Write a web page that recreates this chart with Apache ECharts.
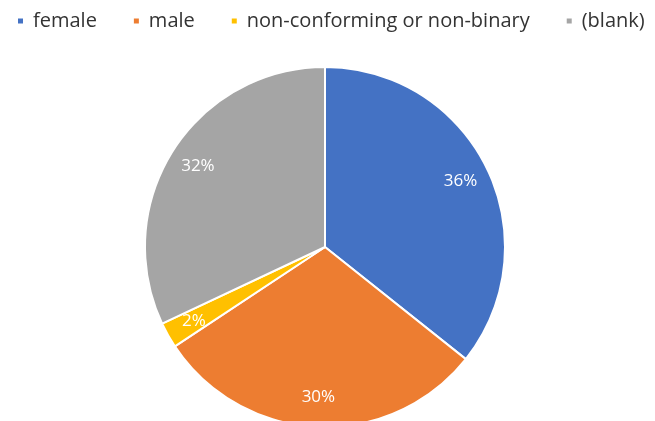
<!DOCTYPE html>
<html>
<head>
<meta charset="utf-8">
<script src="https://cdn.jsdelivr.net/npm/echarts@6/dist/echarts.min.js"></script>
<style>
html, body { margin: 0; padding: 0; background: #fff; }
#chart { width: 655px; height: 421px; }
</style>
</head>
<body>
<div id="chart"></div>
<script>
var categories = ['female', 'male', 'non-conforming or non-binary', '(blank)'];
var shares = [35.7, 30.0, 2.3, 32.0];
var colors = ['#4472C4', '#ED7D31', '#FFC000', '#A5A5A5'];

var pieData = categories.map(function (name, i) {
    return {name: name, value: shares[i]};
});

var font = 'Open Sans';
var center = [325, 247];

var option = {
    color: colors,
    animation: false,
    legend: {
        data: categories,
        top: 6,
        left: 11,
        icon: 'rect',
        itemWidth: 7,
        itemHeight: 7,
        itemGap: 35,
        textStyle: {
            fontFamily: font,
            fontSize: 20,
            color: '#333',
            padding: [0, 0, 0, 4]
        }
    },
    series: [
        {
            name: 'gender',
            type: 'pie',
            center: center,
            radius: 180,
            startAngle: 90,
            clockwise: true,
            itemStyle: {
                borderColor: '#fff',
                borderWidth: 2
            },
            label: {show: false},
            labelLine: {show: false},
            data: pieData
        },
        {
            // transparent ring only used to place the labels further out
            name: 'labels',
            type: 'pie',
            center: center,
            radius: [115, 180],
            startAngle: 90,
            clockwise: true,
            silent: true,
            itemStyle: {color: 'rgba(0,0,0,0)'},
            label: {
                show: true,
                position: 'inside',
                color: '#fff',
                fontFamily: font,
                fontSize: 17,
                formatter: function (p) {
                    return Math.round(p.percent) + '%';
                }
            },
            labelLine: {show: false},
            data: pieData
        }
    ]
};

var chart = echarts.init(document.getElementById('chart'));
chart.setOption(option);
</script>
</body>
</html>
